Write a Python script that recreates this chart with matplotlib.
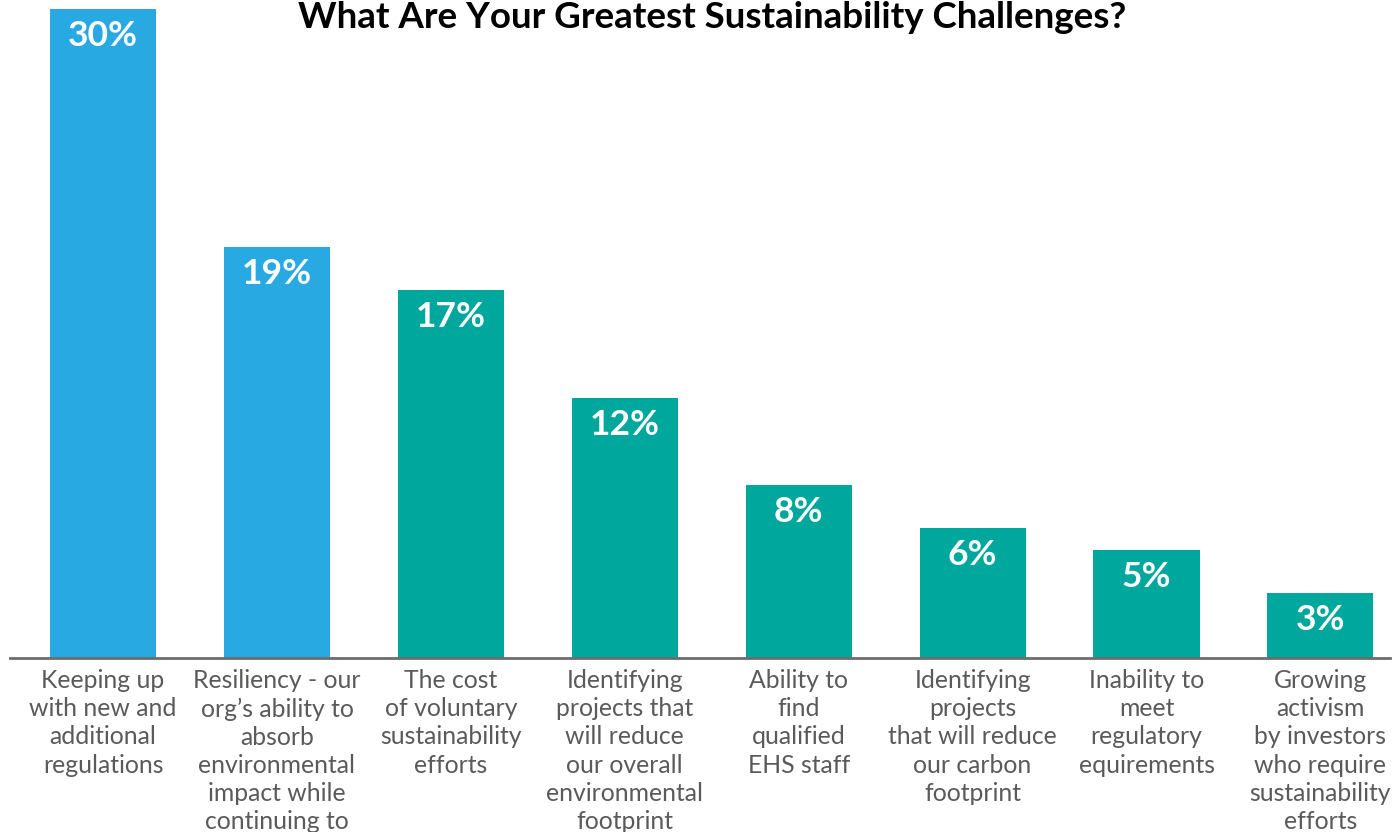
import matplotlib
matplotlib.use("Agg")
import matplotlib.pyplot as plt

categories = [
    "Keeping up\nwith new and\nadditional\nregulations",
    "Resiliency - our\norg\u2019s ability to\nabsorb\nenvironmental\nimpact while\ncontinuing to\ngrow",
    "The cost\nof voluntary\nsustainability\nefforts",
    "Identifying\nprojects that\nwill reduce\nour overall\nenvironmental\nfootprint",
    "Ability to\nfind\nqualified\nEHS staff",
    "Identifying\nprojects\nthat will reduce\nour carbon\nfootprint",
    "Inability to\nmeet\nregulatory\nequirements",
    "Growing\nactivism\nby investors\nwho require\nsustainability\nefforts",
]
values = [30, 19, 17, 12, 8, 6, 5, 3]
value_labels = ["30%", "19%", "17%", "12%", "8%", "6%", "5%", "3%"]
title = "What Are Your Greatest Sustainability Challenges?"

BLUE = "#29A9E1"
TEAL = "#00A79D"
colors = [BLUE, BLUE] + [TEAL] * 6

W, H = 1393, 832
fig = plt.figure(figsize=(W / 100, H / 100), dpi=100)
ax = fig.add_axes([10 / W, 1 - 658 / H, (1390 - 10) / W, (658 - 9) / H])

x = list(range(len(values)))
ax.bar(x, values, width=0.61, color=colors, zorder=2)
ax.set_xlim(-0.535, 7.40)
ax.set_ylim(0, 30)

for xi, v, lab in zip(x, values, value_labels):
    ax.annotate(lab, (xi, v), xytext=(0, -27), textcoords="offset pixels",
                ha="center", va="center", color="white", fontsize=25.5,
                fontweight="bold", family=["Lato", "DejaVu Sans"])

for side in ["top", "right", "left"]:
    ax.spines[side].set_visible(False)
ax.spines["bottom"].set_color("#6d6d6d")
ax.spines["bottom"].set_linewidth(2)
ax.set_yticks([])
ax.set_xticks(x)
ax.set_xticklabels(categories, fontsize=17.8, color="#5a5a5a",
                   family=["Lato", "DejaVu Sans"], fontweight="normal",
                   linespacing=1.27)
ax.tick_params(axis="x", length=0, pad=8)

fig.text(712 / W, 1 - 18 / H, title, ha="center", va="center",
         fontsize=26.5, fontweight="bold", color="black",
         family=["Lato", "DejaVu Sans"])

fig.savefig("out.png", dpi=100)
